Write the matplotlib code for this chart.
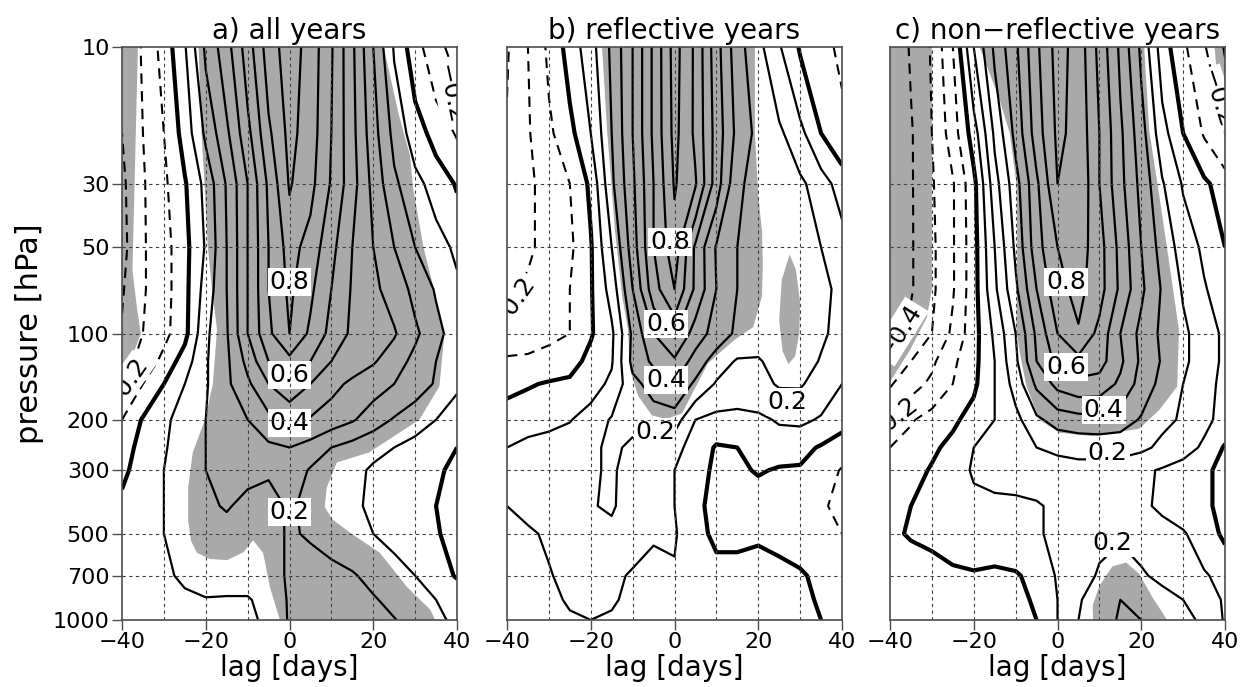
import numpy as np
import matplotlib.pyplot as plt

plt.rcParams['font.family'] = ['DejaVu Sans']
plt.rcParams['font.size'] = 16

# grid of the correlation fields: lag (days) x pressure (hPa)
lags = [-40, -35, -30, -25, -20, -15, -10, -5, 0, 5, 10, 15, 20, 25, 30, 35, 40]
pres = [10, 20, 30, 50, 70, 100, 125, 150, 200, 250, 300, 400, 500, 700, 850, 1000]

# a) all years
corr_a = [
    [-0.28, -0.19, -0.06, 0.09, 0.32, 0.46, 0.65, 0.85, 0.95, 0.86, 0.71, 0.52, 0.30, 0.09, -0.06, -0.17, -0.24],
    [-0.30, -0.20, -0.10, 0.04, 0.22, 0.38, 0.57, 0.78, 0.93, 0.85, 0.70, 0.53, 0.34, 0.17, 0.05, -0.04, -0.11],
    [-0.32, -0.21, -0.12, -0.01, 0.13, 0.31, 0.50, 0.72, 0.91, 0.83, 0.69, 0.54, 0.37, 0.22, 0.13, 0.06, -0.01],
    [-0.33, -0.21, -0.14, -0.03, 0.11, 0.30, 0.50, 0.70, 0.84, 0.76, 0.63, 0.50, 0.40, 0.30, 0.20, 0.14, 0.08],
    [-0.31, -0.21, -0.14, -0.03, 0.14, 0.30, 0.50, 0.70, 0.82, 0.72, 0.60, 0.49, 0.42, 0.36, 0.27, 0.19, 0.12],
    [-0.29, -0.20, -0.13, -0.03, 0.18, 0.29, 0.50, 0.68, 0.80, 0.68, 0.57, 0.48, 0.45, 0.41, 0.32, 0.23, 0.15],
    [-0.24, -0.17, -0.07, 0.05, 0.19, 0.28, 0.43, 0.60, 0.67, 0.60, 0.50, 0.45, 0.41, 0.35, 0.27, 0.20, 0.12],
    [-0.19, -0.10, 0.00, 0.10, 0.19, 0.28, 0.38, 0.50, 0.57, 0.50, 0.43, 0.38, 0.34, 0.30, 0.25, 0.19, 0.11],
    [-0.10, 0.01, 0.08, 0.14, 0.20, 0.25, 0.30, 0.37, 0.42, 0.39, 0.35, 0.31, 0.25, 0.19, 0.14, 0.10, 0.07],
    [-0.04, 0.03, 0.09, 0.15, 0.20, 0.24, 0.26, 0.28, 0.30, 0.26, 0.20, 0.16, 0.12, 0.10, 0.07, 0.04, 0.00],
    [-0.02, 0.04, 0.10, 0.15, 0.20, 0.25, 0.23, 0.21, 0.26, 0.19, 0.15, 0.12, 0.09, 0.07, 0.05, 0.02, -0.03],
    [0.02, 0.07, 0.10, 0.14, 0.18, 0.21, 0.17, 0.17, 0.21, 0.18, 0.15, 0.11, 0.09, 0.06, 0.04, 0.00, -0.04],
    [0.04, 0.08, 0.10, 0.13, 0.15, 0.16, 0.15, 0.17, 0.21, 0.19, 0.16, 0.13, 0.10, 0.07, 0.04, 0.01, -0.04],
    [0.03, 0.04, 0.08, 0.12, 0.14, 0.15, 0.15, 0.17, 0.21, 0.24, 0.23, 0.21, 0.17, 0.14, 0.10, 0.05, -0.01],
    [0.02, 0.04, 0.06, 0.08, 0.095, 0.09, 0.09, 0.14, 0.21, 0.25, 0.25, 0.23, 0.21, 0.17, 0.14, 0.10, 0.07],
    [0.01, 0.03, 0.04, 0.05, 0.06, 0.07, 0.08, 0.12, 0.21, 0.25, 0.26, 0.25, 0.23, 0.205, 0.16, 0.12, 0.08],
]

# b) reflective years
corr_b = [
    [-0.31, -0.20, -0.08, 0.04, 0.16, 0.32, 0.50, 0.72, 0.94, 0.78, 0.54, 0.34, 0.23, 0.11, -0.01, -0.07, -0.12],
    [-0.29, -0.21, -0.12, -0.03, 0.10, 0.30, 0.50, 0.72, 0.93, 0.78, 0.56, 0.37, 0.27, 0.22, 0.13, 0.00, -0.07],
    [-0.28, -0.22, -0.16, -0.10, 0.02, 0.28, 0.48, 0.70, 0.91, 0.81, 0.55, 0.32, 0.26, 0.24, 0.22, 0.15, 0.05],
    [-0.26, -0.22, -0.16, -0.12, -0.01, 0.20, 0.45, 0.70, 0.86, 0.58, 0.39, 0.30, 0.27, 0.26, 0.24, 0.20, 0.15],
    [-0.22, -0.18, -0.14, -0.10, -0.01, 0.14, 0.40, 0.66, 0.80, 0.58, 0.40, 0.30, 0.27, 0.30, 0.29, 0.23, 0.17],
    [-0.18, -0.15, -0.12, -0.10, -0.01, 0.08, 0.32, 0.50, 0.62, 0.45, 0.36, 0.28, 0.25, 0.29, 0.30, 0.22, 0.16],
    [-0.08, -0.08, -0.07, -0.04, 0.03, 0.09, 0.33, 0.42, 0.48, 0.36, 0.25, 0.19, 0.19, 0.24, 0.26, 0.19, 0.14],
    [-0.03, -0.01, 0.01, 0.02, 0.06, 0.12, 0.27, 0.34, 0.39, 0.28, 0.19, 0.16, 0.17, 0.21, 0.21, 0.16, 0.10],
    [0.05, 0.07, 0.08, 0.095, 0.14, 0.21, 0.23, 0.25, 0.25, 0.10, 0.07, 0.07, 0.08, 0.11, 0.12, 0.09, 0.03],
    [0.10, 0.12, 0.13, 0.15, 0.18, 0.22, 0.18, 0.17, 0.13, 0.06, -0.01, 0.00, 0.04, 0.05, 0.03, -0.01, -0.04],
    [0.12, 0.13, 0.14, 0.16, 0.19, 0.21, 0.17, 0.14, 0.10, 0.04, -0.02, -0.02, 0.01, -0.01, -0.01, -0.04, -0.11],
    [0.10, 0.12, 0.13, 0.15, 0.195, 0.21, 0.16, 0.13, 0.10, 0.03, -0.04, -0.06, -0.06, -0.06, -0.07, -0.09, -0.12],
    [0.07, 0.09, 0.11, 0.13, 0.17, 0.18, 0.14, 0.11, 0.11, 0.03, -0.02, -0.02, -0.01, -0.02, -0.04, -0.08, -0.10],
    [0.04, 0.07, 0.095, 0.12, 0.13, 0.12, 0.09, 0.07, 0.09, 0.07, 0.03, 0.03, 0.03, 0.02, 0.01, -0.02, -0.04],
    [0.02, 0.05, 0.08, 0.11, 0.12, 0.11, 0.08, 0.07, 0.07, 0.06, 0.05, 0.05, 0.04, 0.03, 0.02, -0.01, -0.03],
    [0.00, 0.03, 0.06, 0.09, 0.10, 0.09, 0.07, 0.06, 0.06, 0.05, 0.05, 0.04, 0.04, 0.03, 0.02, 0.00, -0.02],
]

# c) non-reflective years
corr_c = [
    [-0.48, -0.39, -0.29, -0.10, 0.20, 0.42, 0.58, 0.78, 0.94, 0.86, 0.67, 0.48, 0.28, 0.05, -0.08, -0.19, -0.31],
    [-0.49, -0.41, -0.30, -0.15, 0.05, 0.32, 0.53, 0.75, 0.92, 0.87, 0.70, 0.52, 0.34, 0.14, 0.00, -0.11, -0.20],
    [-0.47, -0.41, -0.31, -0.21, -0.03, 0.26, 0.46, 0.68, 0.90, 0.89, 0.70, 0.53, 0.37, 0.21, 0.09, 0.02, -0.05],
    [-0.47, -0.41, -0.32, -0.21, -0.04, 0.20, 0.42, 0.66, 0.80, 0.85, 0.74, 0.57, 0.40, 0.26, 0.16, 0.08, 0.00],
    [-0.45, -0.41, -0.32, -0.21, -0.04, 0.18, 0.38, 0.60, 0.77, 0.83, 0.74, 0.58, 0.42, 0.29, 0.19, 0.11, 0.04],
    [-0.42, -0.37, -0.30, -0.18, -0.04, 0.12, 0.30, 0.52, 0.70, 0.79, 0.67, 0.50, 0.37, 0.28, 0.22, 0.15, 0.08],
    [-0.39, -0.30, -0.22, -0.12, -0.03, 0.10, 0.28, 0.50, 0.63, 0.67, 0.64, 0.52, 0.38, 0.29, 0.22, 0.15, 0.08],
    [-0.31, -0.24, -0.18, -0.10, -0.02, 0.10, 0.24, 0.42, 0.53, 0.57, 0.56, 0.48, 0.36, 0.27, 0.20, 0.14, 0.07],
    [-0.20, -0.11, -0.06, -0.02, 0.04, 0.10, 0.17, 0.28, 0.34, 0.36, 0.37, 0.35, 0.29, 0.22, 0.19, 0.13, 0.06],
    [-0.10, -0.06, -0.02, 0.03, 0.10, 0.14, 0.17, 0.20, 0.22, 0.23, 0.23, 0.23, 0.22, 0.18, 0.15, 0.08, -0.01],
    [-0.07, -0.04, 0.01, 0.06, 0.11, 0.13, 0.14, 0.15, 0.16, 0.17, 0.17, 0.16, 0.12, 0.09, 0.05, 0.02, -0.03],
    [-0.03, 0.00, 0.03, 0.05, 0.08, 0.08, 0.08, 0.09, 0.12, 0.15, 0.17, 0.17, 0.12, 0.08, 0.05, 0.02, -0.03],
    [-0.02, 0.01, 0.03, 0.05, 0.06, 0.06, 0.07, 0.09, 0.12, 0.15, 0.18, 0.19, 0.17, 0.14, 0.11, 0.05, -0.02],
    [-0.06, -0.06, -0.05, -0.02, -0.01, -0.02, -0.01, 0.03, 0.11, 0.16, 0.21, 0.24, 0.21, 0.18, 0.15, 0.11, 0.07],
    [-0.03, -0.05, -0.05, -0.04, -0.03, -0.03, -0.02, 0.01, 0.10, 0.19, 0.25, 0.30, 0.28, 0.23, 0.20, 0.14, 0.09],
    [0.00, -0.02, -0.04, -0.04, -0.03, -0.03, -0.02, 0.00, 0.10, 0.20, 0.26, 0.31, 0.30, 0.26, 0.23, 0.18, 0.09],
]

# significant areas (grey), outlines as lag / pressure
a_neg_lag = [-40, -36.2, -37.0, -37.5, -36.5, -35.5, -38.0, -40]
a_neg_p = [10, 10, 30, 60, 80, 100, 125, 148]
a_pos_lag = [-21.7, -21.0, -20.3, -19.5, -18.5, -17.3, -18.3, -20.2, -23.1, -24.2, -24.2, -23.5, -22.1,
             -19.0, -14.9, -11.0, -8.7, -6.3, -4.7, -2.3, 34.8, 33.6, 28.0, 21.6, 14.4, 10.3, 8.4, 8.9,
             11.3, 19.0, 31.0, 35.8, 37.0, 34.5, 32.0, 29.5, 28.8, 26.0, 22.5]
a_pos_p = [10, 20, 30, 50, 70, 97, 150, 200, 260, 345, 450, 530, 583, 612, 618, 580, 527, 583, 765, 1000,
           1000, 920, 765, 583, 495, 446, 403, 345, 282, 260, 200, 153, 100, 70, 50, 31, 24, 17, 10]

b_pos_lag = [-17.3, -16.1, -14.2, -12.5, -11.1, -10.6, -8.7, -5.4, -2.0, 1.8, 8.0, 14.4, 18.8, 20.9,
             21.1, 20.9, 20.0, 19.2, 19.2]
b_pos_p = [10, 19.5, 44, 74, 97, 134, 165, 193, 199, 190, 127, 105, 95, 74, 57, 44, 33, 20, 10]
b_blob_lag = [27.5, 29.0, 30.0, 29.8, 28.8, 27.2, 25.8, 25.0, 25.6]
b_blob_p = [53, 60, 78, 100, 120, 128, 115, 90, 65]

c_neg_lag = [-40, -30, -30, -31.2, -35.2, -39.3, -40]
c_neg_p = [10, 10, 70, 88, 114, 142, 148]
c_pos_lag = [-18.6, -14.0, -11.4, -9.8, -9.6, -9.8, -9.0, -7.4, -4.3, 0.5, 8.3, 19.5, 24.3, 28.6,
             29.0, 26.7, 24.3, 21.9, 20.7]
c_pos_p = [10, 15, 20, 30, 50, 97, 117, 153, 200, 222, 228, 215, 185, 153, 97, 57, 33, 19.5, 10]
c_corner_lag = [37.5, 40, 40, 39.2, 38.2]
c_corner_p = [10, 10, 22, 17, 13]
c_low_lag = [8.5, 8.4, 10.0, 13.1, 16.4, 19.5, 22.6, 25.0, 26.2]
c_low_p = [1000, 890, 760, 650, 630, 690, 830, 940, 1000]

# contour labels: text, lag, pressure, rotation, anchor
labels_a = [("0.8", 0, 66, 0, "center"), ("0.6", 0, 140, 0, "center"), ("0.4", 0, 205, 0, "center"),
            ("0.2", 0, 420, 0, "center"), ("\u22120.2", -35.0, 123, 55, "right"),
            ("\u22120.2", 36.8, 11.5, -78, "left")]
labels_b = [("0.8", -1, 48, 0, "center"), ("0.6", -2, 93, 0, "center"), ("0.4", -2, 145, 0, "center"),
            ("0.2", -4.7, 221, 0, "center"), ("0.2", 27, 173, 0, "center"),
            ("\u22120.2", -34.6, 64, 55, "right")]
labels_c = [("0.8", 2, 66, 0, "center"), ("0.6", 2, 131, 0, "center"), ("0.4", 11, 185, 0, "center"),
            ("0.2", 12, 261, 0, "center"), ("0.2", 13, 538, 0, "center"),
            ("\u22120.4", -33.8, 80, 58, "right"), ("\u22120.2", -34.0, 172, 38, "right"),
            ("\u22120.2", 35.7, 12, -72, "left")]

panels = [
    ("a) all years", corr_a, [(a_neg_lag, a_neg_p), (a_pos_lag, a_pos_p)], labels_a),
    ("b) reflective years", corr_b, [(b_pos_lag, b_pos_p), (b_blob_lag, b_blob_p)], labels_b),
    ("c) non\u2212reflective years", corr_c,
     [(c_neg_lag, c_neg_p), (c_pos_lag, c_pos_p), (c_corner_lag, c_corner_p), (c_low_lag, c_low_p)], labels_c),
]

neg_levels = [-0.5, -0.4, -0.3, -0.2, -0.1]
pos_levels = [0.1, 0.2, 0.3, 0.4, 0.5, 0.6, 0.7, 0.8, 0.9]
ptick = [10, 30, 50, 100, 200, 300, 500, 700, 1000]

fig = plt.figure(figsize=(12.49, 6.87), dpi=100)
lefts = [122 / 1249, 507 / 1249, 890 / 1249]
X, Y = np.meshgrid(lags, pres)

for i, (title, corr, shades, labs) in enumerate(panels):
    ax = fig.add_axes([lefts[i], 67 / 687, 335 / 1249, 573 / 687])
    Z = np.array(corr)

    for sl, sp in shades:
        ax.fill(sl, sp, color="#a9a9a9", lw=0, zorder=1)

    cn = ax.contour(X, Y, Z, levels=neg_levels, colors="k", linewidths=1.5, zorder=2)
    cn.set_linestyle((0, (5, 3.5)))
    ax.contour(X, Y, Z, levels=[0], colors="k", linewidths=3.0, zorder=2)
    ax.contour(X, Y, Z, levels=pos_levels, colors="k", linewidths=1.6, zorder=2)

    for s, lx, lp, rot, ha in labs:
        ax.text(lx, lp, s, ha=ha, va="center", rotation=rot, rotation_mode="anchor",
                fontsize=18, zorder=4, clip_on=True,
                bbox=dict(boxstyle="square,pad=0.08", fc="white", ec="none"))

    # dotted grid on top of everything
    for g in [-30, -20, -10, 0, 10, 20, 30]:
        ax.axvline(g, color="0.25", lw=0.8, ls=(0, (3, 3)), zorder=5)
    for g in [30, 50, 100, 200, 300, 500, 700]:
        ax.axhline(g, color="0.25", lw=0.8, ls=(0, (3, 3)), zorder=5)

    ax.set_yscale("log")
    ax.set_ylim(1000, 10)
    ax.set_xlim(-40, 40)
    ax.set_xticks([-40, -20, 0, 20, 40])
    ax.minorticks_off()
    ax.set_yticks(ptick)
    ax.tick_params(direction="out", length=7, width=1, color="0.3", labelsize=16, pad=2)
    if i == 0:
        ax.set_yticklabels([str(p) for p in ptick])
        ax.set_ylabel("pressure [hPa]", fontsize=22, labelpad=6)
    else:
        ax.tick_params(axis="y", length=0, labelleft=False)
    ax.set_xlabel("lag [days]", fontsize=20, labelpad=1)
    ax.set_title(title, fontsize=20, pad=6)
    for sp in ax.spines.values():
        sp.set_color("0.3")
        sp.set_linewidth(1.2)
        sp.set_zorder(6)

fig.savefig("out.png", dpi=100)
